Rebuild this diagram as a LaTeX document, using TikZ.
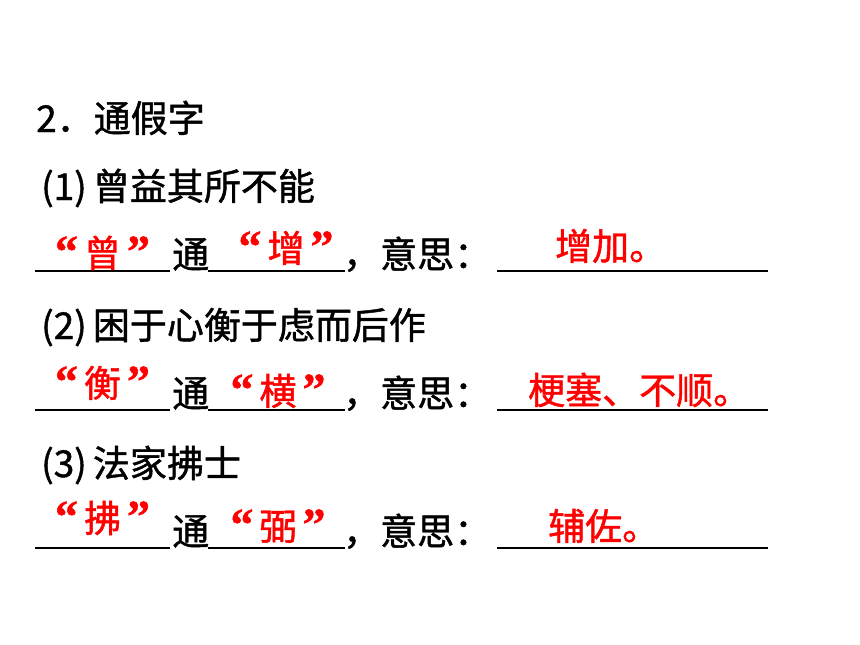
\documentclass[tikz,border=0pt]{standalone}
\usepackage{fontspec}
\setmainfont{Noto Sans CJK SC}[FakeBold=1.2,AutoFakeBold=1.2]
\newfontfamily\quotefont{Liberation Serif}[FakeBold=1]
\newcommand{\Qt}[1]{{\quotefont\fontsize{46}{50}\selectfont “}\hspace{6pt}#1\hspace{6pt}{\quotefont\fontsize{46}{50}\selectfont ”}}
\definecolor{ansred}{RGB}{255,0,0}
\tikzset{
  txt/.style={anchor=base west, inner sep=0pt, font=\fontsize{37}{44}\selectfont\bfseries},
  ans/.style={anchor=base, inner sep=0pt, font=\fontsize{37}{44}\selectfont\bfseries, text=ansred},
  answest/.style={ans, anchor=base west},
  blankline/.style={line width=2pt, black}
}
\begin{document}
\begin{tikzpicture}[x=1pt,y=-1pt]
\useasboundingbox[fill=white] (0,0) rectangle (860,645);
% heading
\node[txt] (h) at (36,132) {2．通假字};
% item 1
\node[txt] (q1) at (41,200) {(1)\,曾益其所不能};
\draw[blankline] (35,271) -- (170,271);
\draw[blankline] (208,271) -- (345,271);
\draw[blankline] (497,271) -- (768,271);
\node[txt] (t1) at (172,268) {通};
\node[txt] (m1) at (343,268) {，意思：};
\node[ans] (a1) at (102.5,267) {\Qt{曾}};
\node[ans] (b1) at (286,262) {\Qt{增}};
\node[answest] (c1) at (555,260) {增加。};
% item 2
\node[txt] (q2) at (41,339) {(2)\,困于心衡于虑而后作};
\draw[blankline] (35,410) -- (170,410);
\draw[blankline] (208,410) -- (345,410);
\draw[blankline] (497,410) -- (768,410);
\node[txt] (t2) at (172,407) {通};
\node[txt] (m2) at (343,407) {，意思：};
\node[ans] (a2) at (102.5,397) {\Qt{衡}};
\node[ans] (b2) at (278,405) {\Qt{横}};
\node[answest] (c2) at (528,404) {梗塞、不顺。};
% item 3
\node[txt] (q3) at (41,477) {(3)\,法家拂士};
\draw[blankline] (35,548) -- (170,548);
\draw[blankline] (208,548) -- (345,548);
\draw[blankline] (497,548) -- (768,548);
\node[txt] (t3) at (172,545) {通};
\node[txt] (m3) at (343,545) {，意思：};
\node[ans] (a3) at (102.5,532) {\Qt{拂}};
\node[ans] (b3) at (278,540) {\Qt{弼}};
\node[answest] (c3) at (548,540) {辅佐。};
\end{tikzpicture}
\end{document}
